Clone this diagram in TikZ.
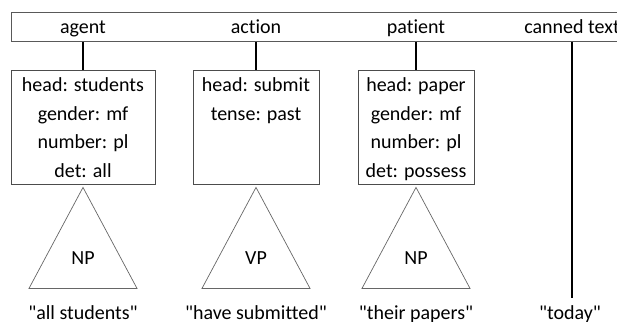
\documentclass[tikz,border=0pt]{standalone}
\usepackage{fontspec}
\newfontfamily\calib{Carlito}[Ligatures=NoCommon]
\usetikzlibrary{positioning}

\begin{document}
\begin{tikzpicture}[x=1pt,y=-1pt,
    feat/.style={font=\calib\fontsize{20}{28.5}\selectfont, align=center, inner sep=0pt},
    lbl/.style={font=\calib\fontsize{20}{24}\selectfont, anchor=base, inner sep=0pt},
    fbox/.style={draw=black!70, line width=0.8pt, minimum height=114pt, inner sep=0pt},
    link/.style={line width=1.6pt},
    tri/.style={draw=black!60, line width=0.7pt}]

  \useasboundingbox (0,0) rectangle (617,321);

  % slot bar
  \node[draw=black!65, line width=0.8pt, minimum width=629pt, minimum height=29pt,
        anchor=north west, inner sep=0pt] (bar) at (11,12) {};

  % slots with feature boxes and phrases
  \foreach \n/\x/\w/\cat/\q in {agent/83/144/NP/{"all students"},
      action/256/126/VP/{"have submitted"}, patient/416/116/NP/{"their papers"}} {
    \node[lbl] (\n) at (\x,34) {\n};
    \node[fbox, minimum width=\w pt] (\n-box) at (\x,127) {};
    \draw[link] (\n-box.north |- bar.south) -- (\n-box.north);
    \coordinate[below=3pt of \n-box] (\n-top);
    \draw[tri] (\n-top) -- ++(-54,101) -- ++(108,0) -- cycle;
    \node[lbl] (\n-cat) at (\x,264) {\cat};
    \node[lbl] (\n-str) at (\x,319) {\q};
  }

  % features
  \node[feat, below=8pt of agent-box.north] (agent-feat)
    {head: students\\gender: mf\\number: pl\\det: all};
  \node[feat, below=8pt of action-box.north] (action-feat)
    {head: submit\\tense: past};
  \node[feat, below=8pt of patient-box.north] (patient-feat)
    {head: paper\\gender: mf\\number: pl\\det: possess};

  % canned text
  \node[lbl] (canned) at (572,34) {canned text};
  \coordinate (canned-end) at (572,298);
  \draw[link] (canned-end |- bar.south) -- (canned-end);
  \node[lbl] (today) at (570,319) {"today"};

\end{tikzpicture}
\end{document}
